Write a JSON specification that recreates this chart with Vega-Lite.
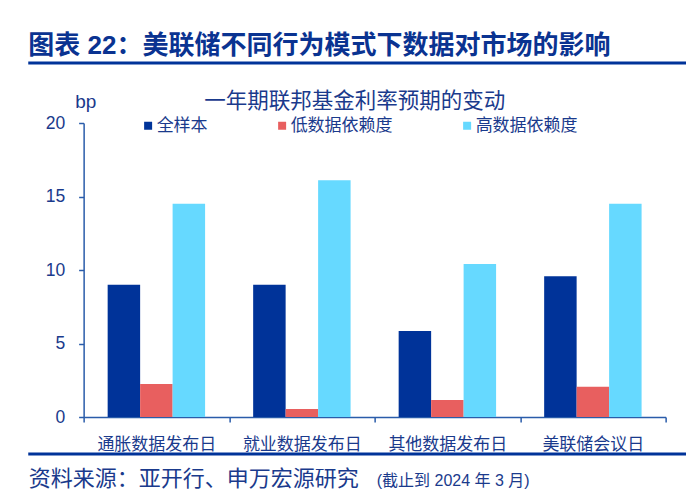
{
  "$schema": "https://vega.github.io/schema/vega-lite/v6.json",
  "background": "white",
  "padding": {"left": 26, "top": 32, "right": 0, "bottom": 0},
  "spacing": 0,
  "center": true,
  "resolve": {"scale": {"color": "independent"}, "legend": {"color": "independent"}},
  "config": {
    "view": {"stroke": null},
    "font": "Liberation Sans, Noto Sans CJK SC"
  },
  "vconcat": [
    {
      "width": 692,
      "height": 27,
      "data": {"values": [{"part": "header"}]},
      "title": {
        "text": "图表 22：美联储不同行为模式下数据对市场的影响",
        "anchor": "start",
        "frame": "group",
        "fontSize": 26,
        "fontWeight": "bold",
        "color": "#0a3391",
        "offset": 3
      },
      "mark": {"type": "rule", "color": "#003399", "strokeWidth": 3},
      "encoding": {
        "x": {"datum": 0, "type": "quantitative", "scale": {"domain": [0, 1]}, "axis": null},
        "x2": {"datum": 1},
        "y": {"datum": 1, "type": "quantitative", "scale": {"domain": [0, 1]}, "axis": null}
      }
    },
    {
      "width": 582,
      "height": 294,
      "data": {
        "values": [
          {"category": "通胀数据发布日", "series": "全样本", "value": 9.0},
          {"category": "通胀数据发布日", "series": "低数据依赖度", "value": 2.25},
          {"category": "通胀数据发布日", "series": "高数据依赖度", "value": 14.5},
          {"category": "就业数据发布日", "series": "全样本", "value": 9.0},
          {"category": "就业数据发布日", "series": "低数据依赖度", "value": 0.55},
          {"category": "就业数据发布日", "series": "高数据依赖度", "value": 16.1},
          {"category": "其他数据发布日", "series": "全样本", "value": 5.85},
          {"category": "其他数据发布日", "series": "低数据依赖度", "value": 1.16},
          {"category": "其他数据发布日", "series": "高数据依赖度", "value": 10.4},
          {"category": "美联储会议日", "series": "全样本", "value": 9.57},
          {"category": "美联储会议日", "series": "低数据依赖度", "value": 2.05},
          {"category": "美联储会议日", "series": "高数据依赖度", "value": 14.5}
        ]
      },
      "title": {
        "text": "一年期联邦基金利率预期的变动",
        "anchor": "middle",
        "frame": "group",
        "fontSize": 21.5,
        "fontWeight": "normal",
        "color": "#1a3a8c",
        "dx": -20,
        "offset": -20
      },
      "mark": {"type": "bar"},
      "encoding": {
        "x": {
          "field": "category",
          "type": "nominal",
          "sort": ["通胀数据发布日", "就业数据发布日", "其他数据发布日", "美联储会议日"],
          "scale": {"paddingInner": 0, "paddingOuter": 0},
          "axis": {
            "title": null,
            "labelAngle": 0,
            "tickBand": "extent",
            "domainColor": "#2a5caa",
            "tickColor": "#2a5caa",
            "domainWidth": 1.5,
            "tickWidth": 1.5,
            "tickSize": 5,
            "labelFontSize": 17,
            "labelColor": "#1a3a8c",
            "labelPadding": 14
          }
        },
        "xOffset": {
          "field": "series",
          "type": "nominal",
          "sort": ["全样本", "低数据依赖度", "高数据依赖度"],
          "scale": {"paddingInner": 0, "paddingOuter": 0.74}
        },
        "y": {
          "field": "value",
          "type": "quantitative",
          "scale": {"domain": [0, 20]},
          "axis": {
            "values": [0, 5, 10, 15, 20],
            "grid": false,
            "title": "bp",
            "titleAngle": 0,
            "titleX": -9,
            "titleY": -22,
            "titleAlign": "left",
            "titleBaseline": "middle",
            "titleFontSize": 19,
            "titleFontWeight": "normal",
            "titleColor": "#1a3a8c",
            "labelFontSize": 17.5,
            "labelColor": "#1a3a8c",
            "labelPadding": 14,
            "tickSize": 5,
            "domainColor": "#2a5caa",
            "tickColor": "#2a5caa",
            "domainWidth": 1.5,
            "tickWidth": 1.5
          }
        },
        "color": {
          "field": "series",
          "type": "nominal",
          "sort": ["全样本", "低数据依赖度", "高数据依赖度"],
          "scale": {
            "domain": ["全样本", "低数据依赖度", "高数据依赖度"],
            "range": ["#003399", "#e85f5f", "#66d9ff"]
          },
          "legend": {
            "orient": "none",
            "legendX": 56,
            "legendY": -6,
            "direction": "horizontal",
            "title": null,
            "symbolType": "square",
            "symbolSize": 64,
            "symbolStrokeWidth": 0,
            "labelFontSize": 17,
            "labelColor": "#1a3a8c",
            "columnPadding": 66,
            "labelOffset": 0,
            "padding": 0
          }
        }
      }
    },
    {
      "width": 692,
      "height": 1,
      "data": {"values": [{"part": "footer"}]},
      "mark": {"type": "rule", "color": "#003399", "strokeWidth": 3},
      "encoding": {
        "x": {
          "datum": 0,
          "type": "quantitative",
          "scale": {"domain": [0, 1]},
          "axis": {
            "title": "(截止到 2024 年 3 月)",
            "domain": false,
            "ticks": false,
            "labels": false,
            "grid": false,
            "titleX": 348,
            "titleY": 31,
            "titleAlign": "left",
            "titleAnchor": "start",
            "titleBaseline": "alphabetic",
            "titleFontSize": 16,
            "titleFontWeight": "normal",
            "titleColor": "#1a3a8c"
          }
        },
        "x2": {"datum": 1},
        "y": {
          "datum": 0,
          "type": "quantitative",
          "scale": {"domain": [0, 1]},
          "axis": {
            "title": "资料来源：亚开行、申万宏源研究",
            "domain": false,
            "ticks": false,
            "labels": false,
            "grid": false,
            "titleAngle": 0,
            "titleX": 0,
            "titleY": 32,
            "titleAlign": "left",
            "titleAnchor": "start",
            "titleBaseline": "alphabetic",
            "titleFontSize": 22,
            "titleFontWeight": "normal",
            "titleColor": "#1a3a8c"
          }
        }
      }
    }
  ]
}
